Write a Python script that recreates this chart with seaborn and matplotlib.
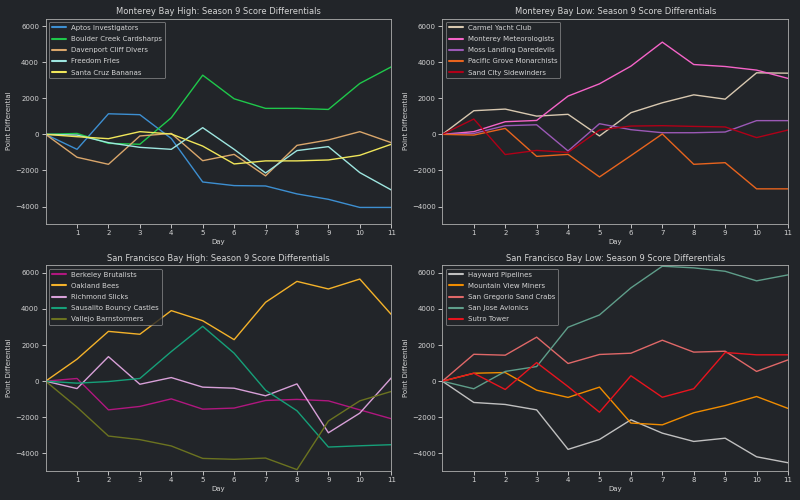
"""Season 9 score differentials, 4 divisions, dark style."""

import matplotlib
matplotlib.use("Agg")
import matplotlib.pyplot as plt
import pandas as pd
import seaborn as sns

days = list(range(12))

# Monterey Bay High
mb_high_teams = ["Aptos Investigators", "Boulder Creek Cardsharps",
                 "Davenport Cliff Divers", "Freedom Fries", "Santa Cruz Bananas"]
aptos = [0, -830, 1140, 1090, -230, -2640, -2840, -2860, -3300, -3600, -4050, -4050]
boulder = [0, 50, -500, -550, 920, 3280, 1970, 1440, 1440, 1380, 2820, 3740]
davenport = [0, -1270, -1660, -90, 50, -1460, -1110, -2300, -610, -310, 150, -460]
freedom = [0, -40, -460, -720, -830, 370, -830, -2140, -900, -680, -2120, -3080]
santa_cruz = [0, -130, -240, 150, 20, -650, -1640, -1470, -1470, -1420, -1160, -550]

# Monterey Bay Low
mb_low_teams = ["Carmel Yacht Club", "Monterey Meteorologists",
                "Moss Landing Daredevils", "Pacific Grove Monarchists",
                "Sand City Sidewinders"]
carmel = [0, 1310, 1400, 1010, 1110, -90, 1200, 1750, 2190, 1950, 3410, 3390]
monterey = [0, 150, 700, 770, 2120, 2800, 3780, 5110, 3870, 3760, 3560, 3100]
moss = [0, 50, 480, 530, -920, 590, 260, 90, 90, 130, 760, 760]
pacific = [0, -40, 330, -1220, -1110, -2360, -1180, 20, -1660, -1570, -3020, -3020]
sand_city = [0, 850, -1120, -890, -1000, 240, 460, 480, 440, 410, -180, 240]

# San Francisco Bay High
sf_high_teams = ["Berkeley Brutalists", "Oakland Bees", "Richmond Slicks",
                 "Sausalito Bouncy Castles", "Vallejo Barnstormers"]
berkeley = [0, 150, -1590, -1400, -980, -1550, -1490, -1070, -1010, -1090, -1590, -2080]
oakland = [0, 1220, 2760, 2600, 3910, 3350, 2300, 4370, 5530, 5110, 5660, 3700]
richmond = [0, -410, 1360, -170, 200, -330, -390, -810, -150, -2860, -1770, 180]
sausalito = [0, -110, -20, 150, 1640, 3040, 1550, -500, -1640, -3650, -3580, -3520]
vallejo = [0, -1440, -3040, -3240, -3590, -4280, -4330, -4260, -4900, -2210, -1090, -570]

# San Francisco Bay Low
sf_low_teams = ["Hayward Pipelines", "Mountain View Miners",
                "San Gregorio Sand Crabs", "San Jose Avionics", "Sutro Tower"]
hayward = [0, -1180, -1290, -1590, -3780, -3230, -2140, -2880, -3340, -3160, -4190, -4520]
mountain_view = [0, 440, 480, -500, -900, -330, -2320, -2420, -1750, -1350, -850, -1510]
san_gregorio = [0, 1490, 1440, 2440, 980, 1480, 1550, 2270, 1610, 1660, 540, 1180]
san_jose = [0, -420, 540, 810, 2990, 3670, 5170, 6370, 6280, 6090, 5560, 5890]
sutro = [0, 440, -460, 1030, -300, -1720, 300, -890, -420, 1590, 1460, 1460]

mb_high_colors = ["#3d8fd1", "#1fc84b", "#d9a66b", "#9ee6e0", "#f0e65a"]
mb_low_colors = ["#d8c8b0", "#f564c8", "#9b59b6", "#e8641e", "#b00018"]
sf_high_colors = ["#b0177f", "#f4b22a", "#d8a0d8", "#16a079", "#6b7320"]
sf_low_colors = ["#c0c0c0", "#f08c00", "#e06868", "#5f9e8a", "#e8141e"]

BG = "#222529"
FG = "#d4d4d4"

sns.set_theme(style="dark", rc={
    "figure.facecolor": BG,
    "axes.facecolor": BG,
    "axes.edgecolor": "#aaaaaa",
    "axes.labelcolor": FG,
    "text.color": FG,
    "xtick.color": FG,
    "ytick.color": FG,
    "xtick.bottom": True,
    "ytick.left": True,
    "axes.grid": False,
    "legend.facecolor": BG,
    "legend.edgecolor": "#aaaaaa",
    "font.size": 10,
    "axes.titlesize": 12,
    "axes.labelsize": 10,
    "xtick.labelsize": 10,
    "ytick.labelsize": 10,
    "legend.fontsize": 10,
})
plt.rcParams["font.family"] = ["DejaVu Sans"]


def _long(teams, series):
    rows = []
    for team, vals in zip(teams, series):
        for d, v in zip(days, vals):
            rows.append({"Day": d, "Diff": v, "Team": team})
    return pd.DataFrame(rows)


panels = [
    ("Monterey Bay High", mb_high_teams,
     [aptos, boulder, davenport, freedom, santa_cruz], mb_high_colors),
    ("Monterey Bay Low", mb_low_teams,
     [carmel, monterey, moss, pacific, sand_city], mb_low_colors),
    ("San Francisco Bay High", sf_high_teams,
     [berkeley, oakland, richmond, sausalito, vallejo], sf_high_colors),
    ("San Francisco Bay Low", sf_low_teams,
     [hayward, mountain_view, san_gregorio, san_jose, sutro], sf_low_colors),
]

fig, axes = plt.subplots(2, 2, figsize=(16, 10), dpi=50)
fig.subplots_adjust(left=0.057, right=0.985, top=0.963, bottom=0.059,
                    wspace=0.148, hspace=0.203)

for ax, (name, teams, series, colors) in zip(axes.flat, panels):
    df = _long(teams, series)
    sns.lineplot(data=df, x="Day", y="Diff", hue="Team", hue_order=teams,
                 palette=dict(zip(teams, colors)), linewidth=2, ax=ax)
    ax.set_title(f"{name}: Season 9 Score Differentials")
    ax.set_xlabel("Day")
    ax.set_ylabel("Point Differential")
    ax.set_xlim(0, 11)
    ax.set_ylim(-4950, 6420)
    ax.set_xticks(range(1, 12))
    ax.set_yticks(range(-4000, 6001, 2000))
    leg = ax.legend(loc="upper left", title=None, labelspacing=0.75)
    for h in leg.get_lines():
        h.set_linewidth(3)
    for s in ax.spines.values():
        s.set_color("#aaaaaa")

fig.savefig("out.png", dpi=50, facecolor=BG)
